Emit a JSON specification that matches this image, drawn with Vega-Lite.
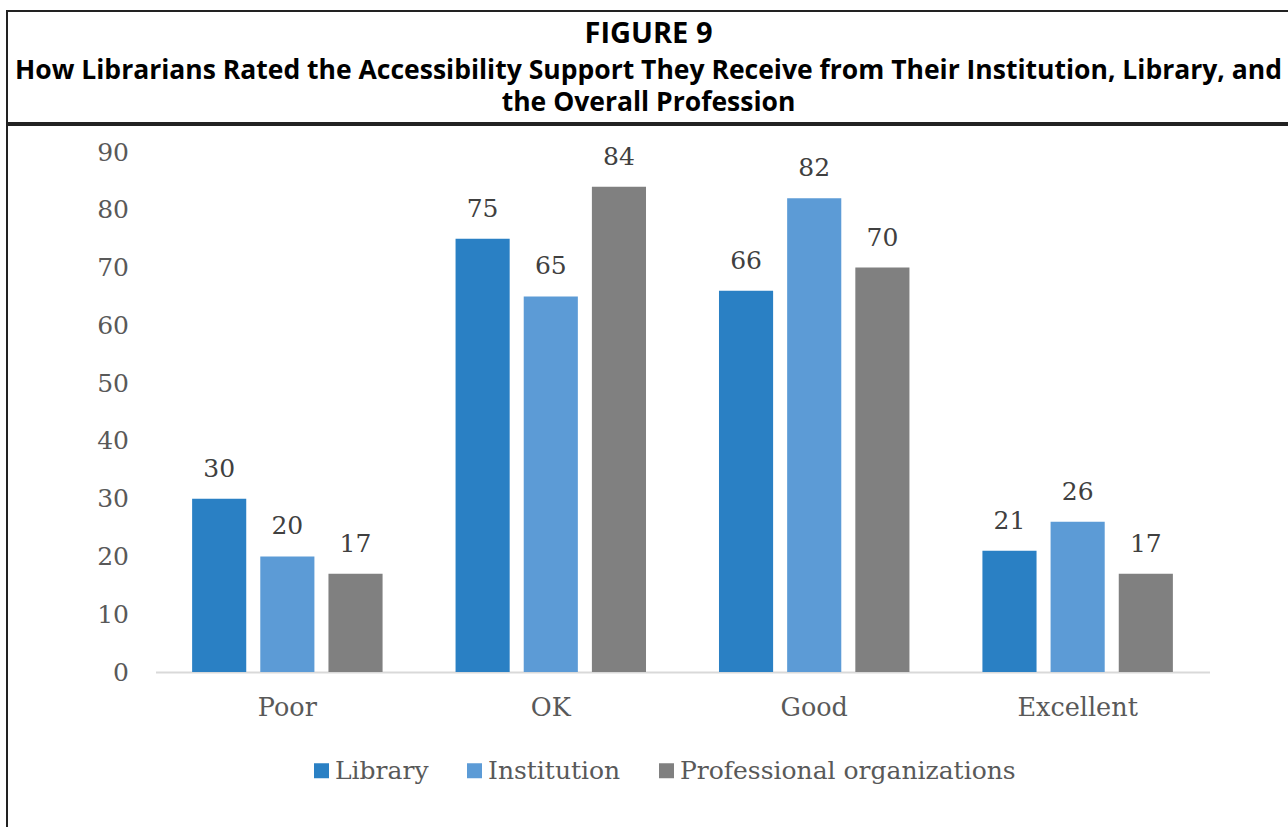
{
  "$schema": "https://vega.github.io/schema/vega-lite/v6.json",
  "padding": {"left": 6, "top": 10, "right": 0, "bottom": 0},
  "spacing": 0,
  "background": "white",
  "config": {
    "view": {"stroke": "#222222", "strokeWidth": 2},
    "concat": {"spacing": 0}
  },
  "vconcat": [
    {
      "width": 1283,
      "height": 112,
      "data": {"values": [
        {"line": 1, "text": "FIGURE 9"},
        {"line": 2, "text": "How Librarians Rated the Accessibility Support They Receive from Their Institution, Library, and"},
        {"line": 3, "text": "the Overall Profession"}
      ]},
      "mark": {"type": "text", "font": "Open Sans", "fontWeight": "bold", "baseline": "middle", "align": "center", "color": "#000000"},
      "encoding": {
        "y": {"field": "line", "type": "quantitative", "scale": {"type": "pow", "exponent": 0.7, "domain": [0.495, 3.709], "reverse": true, "nice": false, "zero": false}, "axis": null},
        "text": {"field": "text"},
        "size": {"condition": {"test": "datum.line === 1", "value": 29}, "value": 26.5}
      }
    },
    {
      "width": 1283,
      "height": 705,
      "data": {"values": [
        {"rating": "Poor", "series": "Library", "value": 30},
        {"rating": "Poor", "series": "Institution", "value": 20},
        {"rating": "Poor", "series": "Professional organizations", "value": 17},
        {"rating": "OK", "series": "Library", "value": 75},
        {"rating": "OK", "series": "Institution", "value": 65},
        {"rating": "OK", "series": "Professional organizations", "value": 84},
        {"rating": "Good", "series": "Library", "value": 66},
        {"rating": "Good", "series": "Institution", "value": 82},
        {"rating": "Good", "series": "Professional organizations", "value": 70},
        {"rating": "Excellent", "series": "Library", "value": 21},
        {"rating": "Excellent", "series": "Institution", "value": 26},
        {"rating": "Excellent", "series": "Professional organizations", "value": 17}
      ]},
      "encoding": {
        "x": {
          "field": "rating", "type": "nominal",
          "sort": ["Poor", "OK", "Good", "Excellent"],
          "scale": {"range": [148.5, 1202.5], "paddingInner": 0.277, "paddingOuter": 0.139},
          "axis": {
            "title": null, "labelAngle": 0, "offset": -158,
            "domainColor": "#d9d9d9", "domainWidth": 2, "ticks": false, "grid": false,
            "labelFont": "DejaVu Serif", "labelFontSize": 25.5, "labelColor": "#595959", "labelPadding": 23
          }
        },
        "xOffset": {
          "field": "series", "type": "nominal",
          "sort": ["Library", "Institution", "Professional organizations"],
          "scale": {"paddingInner": 0.206, "paddingOuter": 0}
        },
        "y": {
          "field": "value", "type": "quantitative",
          "scale": {"domain": [0, 90], "range": [547, 27], "nice": false},
          "axis": {
            "title": null, "values": [0, 10, 20, 30, 40, 50, 60, 70, 80, 90],
            "grid": false, "domain": false, "ticks": false, "offset": -148.5,
            "labelFont": "DejaVu Serif", "labelFontSize": 25, "labelColor": "#595959", "labelPadding": 27
          }
        }
      },
      "layer": [
        {
          "mark": {"type": "bar"},
          "encoding": {
            "color": {
              "field": "series", "type": "nominal",
              "sort": ["Library", "Institution", "Professional organizations"],
              "scale": {"domain": ["Library", "Institution", "Professional organizations"], "range": ["#2A80C4", "#5C9BD6", "#808080"]},
              "legend": {
                "title": null, "orient": "none", "direction": "horizontal",
                "legendX": 302, "legendY": 747, "padding": 0,
                "symbolType": "square", "symbolSize": 225, "symbolStrokeWidth": 0,
                "labelFont": "DejaVu Serif", "labelFontSize": 25, "labelColor": "#595959",
                "labelOffset": 1, "columnPadding": 33, "labelLimit": 500
              }
            }
          }
        },
        {
          "mark": {"type": "text", "baseline": "alphabetic", "dy": -22, "font": "DejaVu Serif", "fontSize": 25, "color": "#404040"},
          "encoding": {"text": {"field": "value", "type": "quantitative"}}
        }
      ]
    }
  ]
}
